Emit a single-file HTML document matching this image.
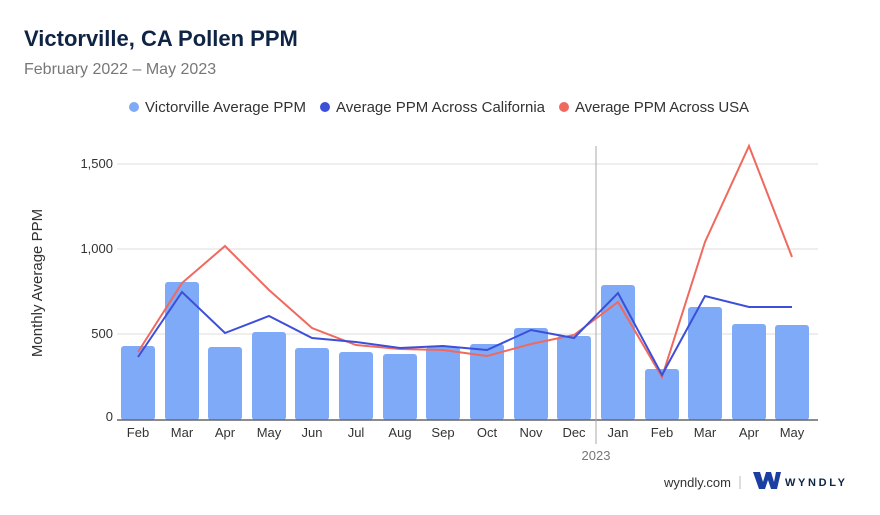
<!DOCTYPE html>
<html><head><meta charset="utf-8"><style>
body{margin:0;background:#fff;font-family:"Liberation Sans",sans-serif;}
</style></head><body>
<svg width="880" height="510" viewBox="0 0 880 510" xmlns="http://www.w3.org/2000/svg" font-family="Liberation Sans, sans-serif">
<text x="24" y="46" font-size="22" font-weight="bold" fill="#0f2444">Victorville, CA Pollen PPM</text>
<text x="24" y="74" font-size="16" fill="#777">February 2022 – May 2023</text>
<circle cx="134" cy="107" r="5" fill="#7faaf7"/><text x="145" y="112" font-size="15" fill="#333" textLength="161">Victorville Average PPM</text>
<circle cx="325" cy="107" r="5" fill="#3c4fd8"/><text x="336" y="112" font-size="15" fill="#333" textLength="209">Average PPM Across California</text>
<circle cx="564" cy="107" r="5" fill="#f0695f"/><text x="575" y="112" font-size="15" fill="#333" textLength="174">Average PPM Across USA</text>
<g stroke="#ddd" stroke-width="1">
<line x1="117" y1="164" x2="818" y2="164"/><line x1="117" y1="249" x2="818" y2="249"/><line x1="117" y1="334" x2="818" y2="334"/>
</g>
<g font-size="13" fill="#333" text-anchor="end">
<text x="113" y="168">1,500</text><text x="113" y="253">1,000</text><text x="113" y="338">500</text><text x="113" y="421">0</text>
</g>
<text transform="translate(42,283) rotate(-90)" font-size="15" fill="#333" text-anchor="middle">Monthly Average PPM</text>
<g fill="#7faaf7">
<rect x="121" y="346" width="34" height="74" rx="3"/>
<rect x="165" y="282" width="34" height="138" rx="3"/>
<rect x="208" y="347" width="34" height="73" rx="3"/>
<rect x="252" y="332" width="34" height="88" rx="3"/>
<rect x="295" y="348" width="34" height="72" rx="3"/>
<rect x="339" y="352" width="34" height="68" rx="3"/>
<rect x="383" y="354" width="34" height="66" rx="3"/>
<rect x="426" y="347" width="34" height="73" rx="3"/>
<rect x="470" y="344" width="34" height="76" rx="3"/>
<rect x="514" y="328" width="34" height="92" rx="3"/>
<rect x="557" y="336" width="34" height="84" rx="3"/>
<rect x="601" y="285" width="34" height="135" rx="3"/>
<rect x="645" y="369" width="34" height="51" rx="3"/>
<rect x="688" y="307" width="34" height="113" rx="3"/>
<rect x="732" y="324" width="34" height="96" rx="3"/>
<rect x="775" y="325" width="34" height="95" rx="3"/>
</g>
<line x1="117" y1="420" x2="818" y2="420" stroke="#666" stroke-width="1.5"/>
<line x1="596" y1="146" x2="596" y2="444" stroke="#aaa" stroke-width="1"/>
<polyline fill="none" stroke="#f0695f" stroke-width="2" points="138,352 182,283 225,246 269,290 312,328 356,345 400,349 443,350 487,356 531,344 574,335 618,302 662,377 705,242 749,146 792,257"/>
<polyline fill="none" stroke="#3c4fd8" stroke-width="2" points="138,357 182,292 225,333 269,316 312,338 356,342 400,348 443,346 487,350 531,330 574,338 618,293 662,375 705,296 749,307 792,307"/>
<g font-size="13" fill="#333" text-anchor="middle">
<text x="138" y="437">Feb</text><text x="182" y="437">Mar</text><text x="225" y="437">Apr</text><text x="269" y="437">May</text><text x="312" y="437">Jun</text><text x="356" y="437">Jul</text><text x="400" y="437">Aug</text><text x="443" y="437">Sep</text><text x="487" y="437">Oct</text><text x="531" y="437">Nov</text><text x="574" y="437">Dec</text><text x="618" y="437">Jan</text><text x="662" y="437">Feb</text><text x="705" y="437">Mar</text><text x="749" y="437">Apr</text><text x="792" y="437">May</text>
<text x="596" y="460" fill="#777">2023</text>
</g>
<text x="731" y="487" font-size="13" fill="#333" text-anchor="end">wyndly.com</text>
<line x1="740" y1="476" x2="740" y2="489" stroke="#bbb"/>
<path d="M753 472 L760 472 L763 482 L766 472 L771 472 L774 482 L776 472 L781 472 L777 489 L771 489 L768 480 L765 489 L759 489 Z" fill="#1a3fa0"/>
<text x="785" y="486" font-size="11" font-weight="bold" fill="#0f2444" textLength="60">WYNDLY</text>
</svg>
</body></html>
